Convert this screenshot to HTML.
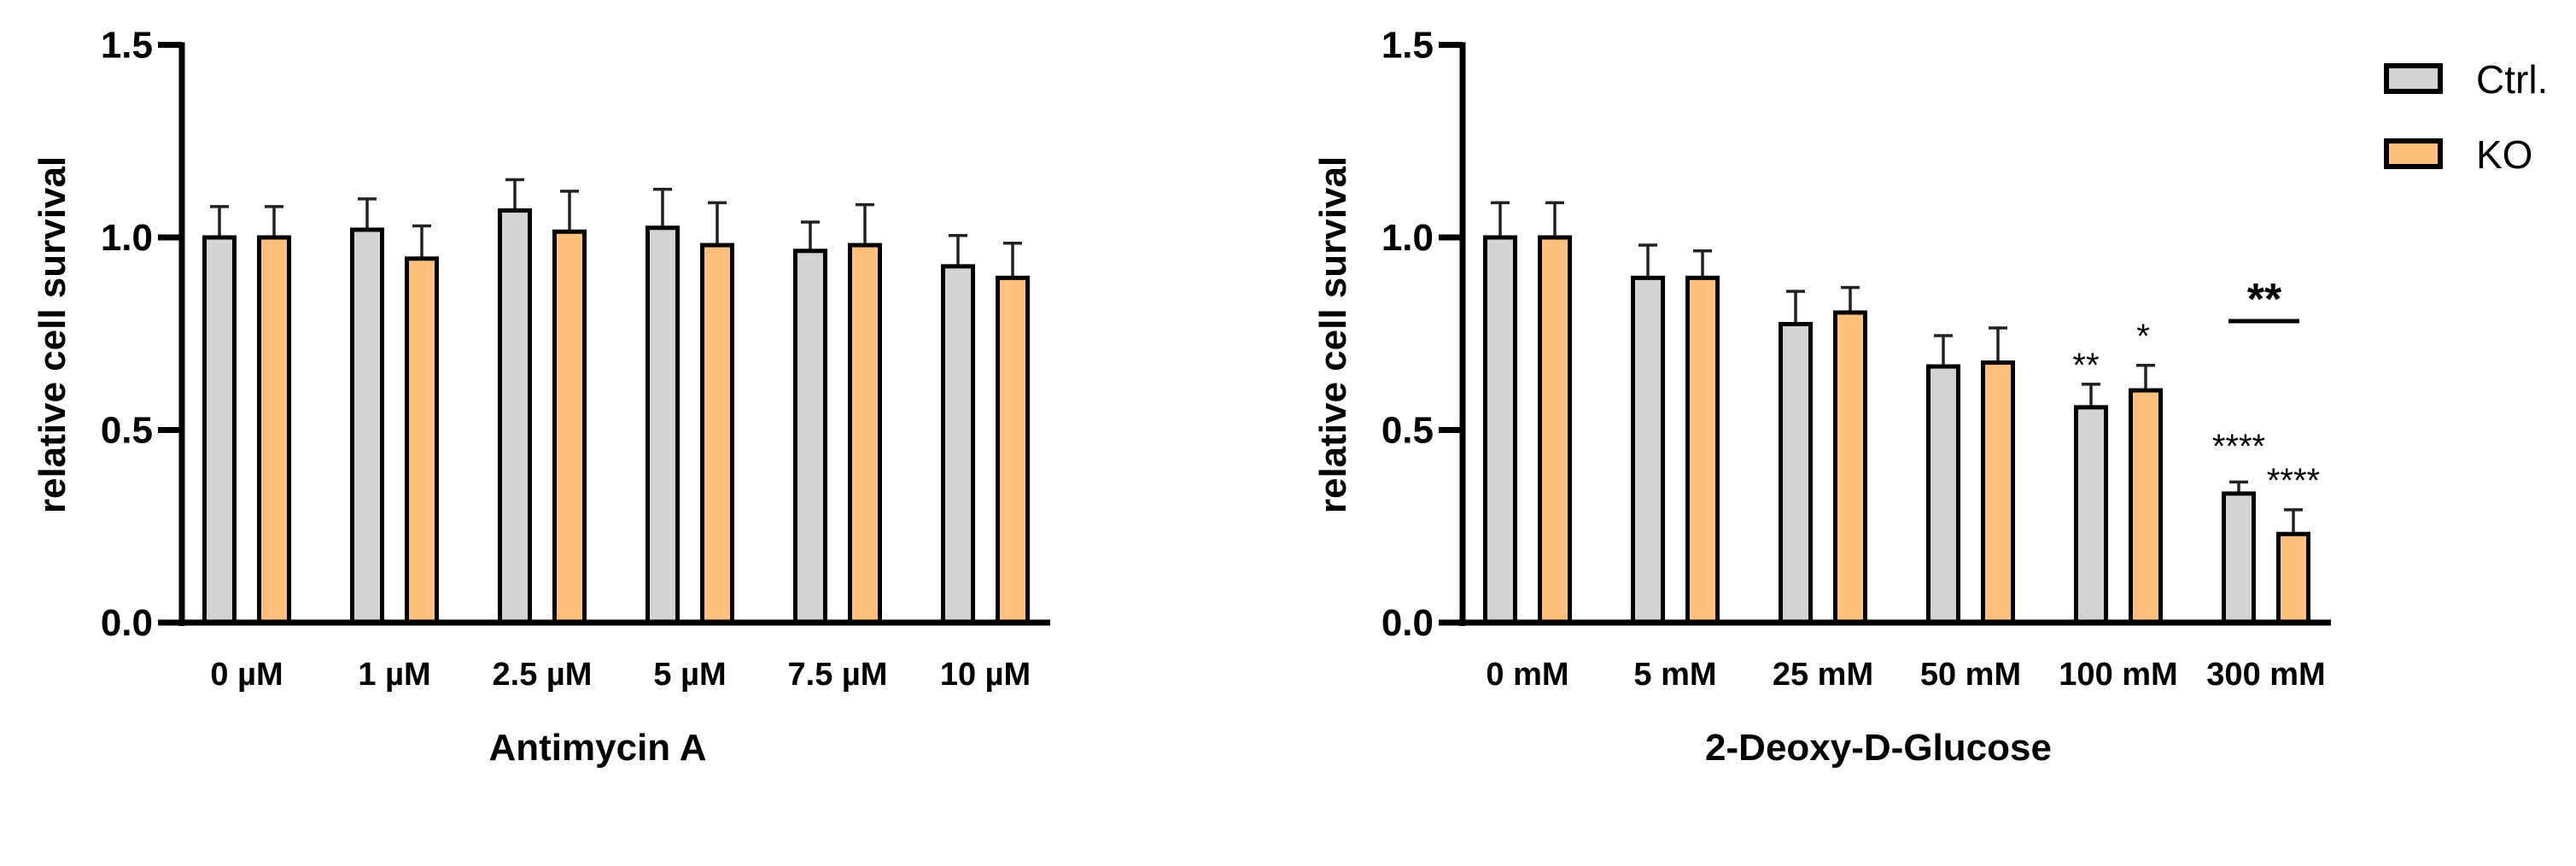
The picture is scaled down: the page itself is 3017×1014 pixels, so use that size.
<!DOCTYPE html>
<html><head><meta charset="utf-8"><style>
html,body{margin:0;padding:0;background:#fff;}
svg{display:block;font-family:"Liberation Sans",Arial,sans-serif;}
</style></head><body>
<svg id="fig" width="3017" height="1014" viewBox="0 0 3017 1014" xmlns="http://www.w3.org/2000/svg"></svg>
<script>
const leftCats = ["0 µM","1 µM","2.5 µM","5 µM","7.5 µM","10 µM"];
const leftCtrl = [1.0,1.02,1.07,1.025,0.965,0.925];
const leftCtrlErr = [0.08,0.08,0.08,0.10,0.075,0.08];
const leftKO = [1.0,0.945,1.015,0.98,0.98,0.895];
const leftKOErr = [0.08,0.085,0.105,0.11,0.105,0.09];
const rightCats = ["0 mM","5 mM","25 mM","50 mM","100 mM","300 mM"];
const rightCtrl = [1.0,0.895,0.775,0.665,0.559,0.335];
const rightCtrlErr = [0.09,0.085,0.085,0.08,0.06,0.03];
const rightKO = [1.0,0.895,0.805,0.675,0.603,0.23];
const rightKOErr = [0.09,0.07,0.065,0.09,0.065,0.063];
const yTicks = [0.0,0.5,1.0,1.5];
const yTickLabels = ["0.0","0.5","1.0","1.5"];

const NS="http://www.w3.org/2000/svg";
const svg=document.getElementById('fig');
function mk(tag,attrs,parent){const e=document.createElementNS(NS,tag);for(const k in attrs)e.setAttribute(k,attrs[k]);(parent||svg).appendChild(e);return e;}
const Y0=729, PXU=451;
function yScale(v){return Y0-v*PXU;}

function drawChart(ox,cats,ctrl,ctrlErr,ko,koErr,title,prefix){
  const g=mk('g',{});
  
  
  const ax=213+ox;
  function xScale(i){return 289+ox+i*173;}
  const series=[[ctrl,ctrlErr,'#d3d3d3',-32,'ctrl'],[ko,koErr,'#ffc07e',32,'ko']];
  series.forEach(s=>{
    s[0].forEach((v,i)=>{
      const cx=xScale(i)+s[3];
      const top=yScale(v), err=yScale(v+s[1][i]);
      const l=mk('line',{x1:cx,x2:cx,y1:top,y2:err,stroke:'#222','stroke-width':3.5},g);
      
      
      const c=mk('line',{x1:cx-11,x2:cx+11,y1:err,y2:err,stroke:'#222','stroke-width':3.5},g);
      
      
      const r=mk('rect',{x:cx-17.5,y:top,width:35,height:Y0-top,fill:s[2],stroke:'#000','stroke-width':5},g);
      
      
    });
  });
  const ya=mk('line',{x1:ax,x2:ax,y1:yScale(1.5)-3,y2:Y0+4,stroke:'#000','stroke-width':7},g);
  
  
  const xa=mk('line',{x1:ax-3,x2:1230+ox,y1:Y0,y2:Y0,stroke:'#000','stroke-width':7},g);
  
  
  yTicks.forEach((t,i)=>{
    const y=yScale(t);
    const tk=mk('line',{x1:ax-28,x2:ax,y1:y,y2:y,stroke:'#000','stroke-width':7},g);
    
    
    const tx=mk('text',{x:ax-34,y:y+15,'text-anchor':'end','font-size':44,'font-weight':'bold'},g);
    tx.textContent=yTickLabels[i];
    
    
  });
  cats.forEach((c,i)=>{
    const tx=mk('text',{x:xScale(i),y:802,'text-anchor':'middle','font-size':38,'font-weight':'bold'},g);
    tx.textContent=c;
    
    
  });
  const yt=mk('text',{x:0,y:0,'text-anchor':'middle','font-size':44,'font-weight':'bold',transform:'translate('+(76+ox)+',392) rotate(-90)'},g);
  yt.textContent='relative cell survival';
  
  
  const tt=mk('text',{x:700+ox,y:890,'text-anchor':'middle','font-size':44,'font-weight':'bold'},g);
  tt.textContent=title;
  
  
}
drawChart(0,leftCats,leftCtrl,leftCtrlErr,leftKO,leftKOErr,'Antimycin A','antimycin');
drawChart(1500,rightCats,rightCtrl,rightCtrlErr,rightKO,rightKOErr,'2-Deoxy-D-Glucose','deoxyglucose');

const sigs=[["**",2443,441,40],["*",2510,407,40],["****",2622,536,40],["****",2686,576,40],["**",2652,368,52]];
sigs.forEach(s=>{
  const t=mk('text',{x:s[1],y:s[2],'text-anchor':'middle','font-size':s[3],'font-weight':s[3]>45?'bold':'normal'});
  t.textContent=s[0];
  
  
});
const sl=mk('line',{x1:2610,x2:2693,y1:376,y2:376,stroke:'#000','stroke-width':5});



const legend=[["Ctrl.",'#d3d3d3',92],["KO",'#ffc07e',180]];
legend.forEach(l=>{
  const r=mk('rect',{x:2795,y:l[2]-15,width:63,height:30,fill:l[1],stroke:'#000','stroke-width':6});
  
  
  const t=mk('text',{x:2900,y:l[2]+17,'font-size':46});
  t.textContent=l[0];
  
  
});
</script>
</body></html>
